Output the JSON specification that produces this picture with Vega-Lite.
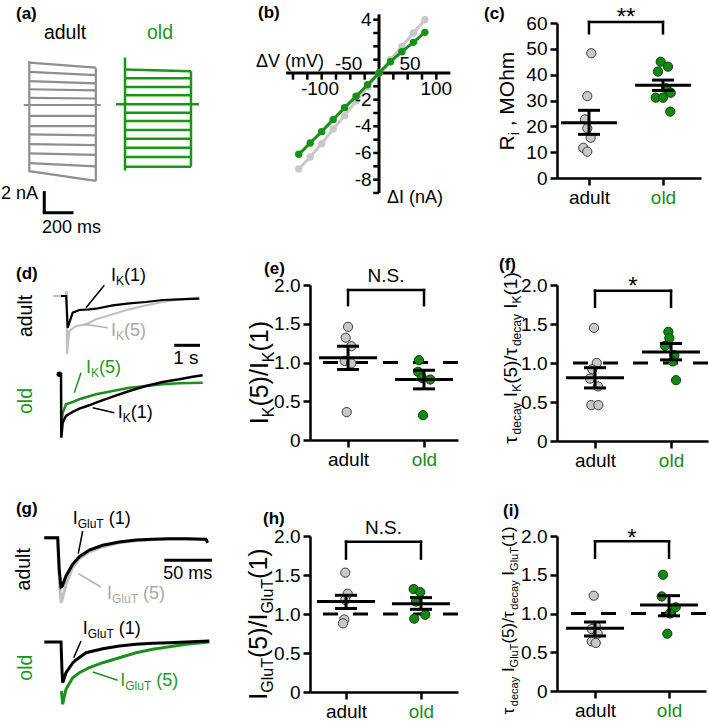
{
"$schema":"https://vega.github.io/schema/vega-lite/v6.json",
"padding":{"left":0,"top":4,"right":0,"bottom":0},
"background":"white",
"config":{"font":"Liberation Sans","view":{"stroke":null},"axis":{"domainColor":"black","domainWidth":2.5,"tickColor":"black","tickWidth":2.5,"tickSize":7,"labelFontSize":19,"labelColor":"black","labelFont":"Liberation Sans","grid":false,"labelPadding":3,"labelOverlap":false,"labelFlush":false},"text":{"color":"black"}},
"columns":3,
"spacing":{"row":95,"column":99},
"align":"each",
"bounds":"flush",
"datasets":{
"one":[{}],
"a_ad":[{"sw":"s1","t":0,"i":3.9},{"sw":"s1","t":480,"i":3.45},{"sw":"s2","t":0,"i":3.05},{"sw":"s2","t":480,"i":2.75},{"sw":"s3","t":0,"i":2.2},{"sw":"s3","t":480,"i":2.0},{"sw":"s4","t":0,"i":1.45},{"sw":"s4","t":480,"i":1.35},{"sw":"s5","t":0,"i":0.65},{"sw":"s5","t":480,"i":0.6},{"sw":"s0","t":-40,"i":0},{"sw":"s0","t":515,"i":0},{"sw":"s6","t":0,"i":-1.0},{"sw":"s6","t":480,"i":-1.0},{"sw":"s7","t":0,"i":-1.95},{"sw":"s7","t":480,"i":-1.95},{"sw":"s8","t":0,"i":-2.7},{"sw":"s8","t":480,"i":-2.8},{"sw":"s9","t":0,"i":-3.6},{"sw":"s9","t":480,"i":-3.7},{"sw":"s10","t":0,"i":-4.45},{"sw":"s10","t":480,"i":-4.6},{"sw":"s11","t":0,"i":-5.35},{"sw":"s11","t":480,"i":-5.65},{"sw":"s12","t":0,"i":-6.1},{"sw":"s12","t":480,"i":-7.0},{"sw":"eL","t":0,"i":4.05},{"sw":"eL","t":0,"i":-6.2},{"sw":"eR","t":480,"i":3.45},{"sw":"eR","t":480,"i":-7.0}],
"a_old":[{"sw":"s1","t":0,"i":3.2},{"sw":"s1","t":476,"i":3.05},{"sw":"s2","t":0,"i":2.4},{"sw":"s2","t":476,"i":2.4},{"sw":"s3","t":0,"i":1.6},{"sw":"s3","t":476,"i":1.6},{"sw":"s4","t":0,"i":0.83},{"sw":"s4","t":476,"i":0.83},{"sw":"s0","t":-65,"i":0},{"sw":"s0","t":534,"i":0},{"sw":"s5","t":0,"i":-0.77},{"sw":"s5","t":476,"i":-0.77},{"sw":"s6","t":0,"i":-1.55},{"sw":"s6","t":476,"i":-1.55},{"sw":"s7","t":0,"i":-2.37},{"sw":"s7","t":476,"i":-2.37},{"sw":"s8","t":0,"i":-3.18},{"sw":"s8","t":476,"i":-3.18},{"sw":"s9","t":0,"i":-4.0},{"sw":"s9","t":476,"i":-4.0},{"sw":"s10","t":0,"i":-4.85},{"sw":"s10","t":476,"i":-4.85},{"sw":"s11","t":0,"i":-5.75},{"sw":"s11","t":476,"i":-5.75},{"sw":"eL","t":0,"i":4.3},{"sw":"eL","t":0,"i":-6.1},{"sw":"eR","t":476,"i":3.05},{"sw":"eR","t":476,"i":-5.75}],
"b_ad":[{"v":-140,"i":-7.2},{"v":-120,"i":-6.3},{"v":-100,"i":-5.3},{"v":-80,"i":-4.2},{"v":-60,"i":-3.2},{"v":-40,"i":-2.1},{"v":-20,"i":-1.05},{"v":0,"i":0},{"v":20,"i":1.0},{"v":40,"i":2.0},{"v":60,"i":3.0},{"v":80,"i":4.0}],
"b_old":[{"v":-140,"i":-6.1},{"v":-120,"i":-5.25},{"v":-100,"i":-4.4},{"v":-80,"i":-3.5},{"v":-60,"i":-2.6},{"v":-40,"i":-1.75},{"v":-20,"i":-0.88},{"v":0,"i":0},{"v":20,"i":0.85},{"v":40,"i":1.6},{"v":60,"i":2.3},{"v":80,"i":3.05}],
"b_xt":[{"v":-150},{"v":-125},{"v":-100},{"v":-75},{"v":-50},{"v":-25},{"v":25},{"v":50},{"v":75},{"v":100}],
"b_yt":[{"i":-9},{"i":-8},{"i":-7},{"i":-6},{"i":-5},{"i":-4},{"i":-3},{"i":-2},{"i":-1},{"i":1},{"i":2},{"i":3},{"i":4}],
"c_pts":[{"group":"adult","value":48.3,"jitter":2.3},{"group":"adult","value":31.7,"jitter":-1.7},{"group":"adult","value":22.7,"jitter":-4},{"group":"adult","value":19.2,"jitter":-1.7},{"group":"adult","value":15.6,"jitter":1.7},{"group":"adult","value":11.7,"jitter":-5.7},{"group":"adult","value":10.2,"jitter":-1.7},{"group":"old","value":45.0,"jitter":-2.3},{"group":"old","value":43.1,"jitter":5},{"group":"old","value":41.2,"jitter":-5},{"group":"old","value":34.7,"jitter":3.3},{"group":"old","value":33.0,"jitter":7.7},{"group":"old","value":31.1,"jitter":-7.3},{"group":"old","value":31.1,"jitter":0},{"group":"old","value":25.7,"jitter":7.3}],
"c_sum":[{"group":"adult","mean":21.4,"lo":16.9,"hi":26.2},{"group":"old","mean":35.9,"lo":33.9,"hi":37.9}],
"e_pts":[{"group":"adult","value":1.46,"jitter":0},{"group":"adult","value":1.32,"jitter":-2.3},{"group":"adult","value":1.21,"jitter":3.3},{"group":"adult","value":1.02,"jitter":-3.3},{"group":"adult","value":0.99,"jitter":3.3},{"group":"adult","value":0.36,"jitter":-1.3},{"group":"old","value":1.03,"jitter":-5},{"group":"old","value":0.88,"jitter":-6},{"group":"old","value":0.80,"jitter":-2},{"group":"old","value":0.78,"jitter":6.3},{"group":"old","value":0.32,"jitter":-1}],
"e_sum":[{"group":"adult","mean":1.06,"lo":0.91,"hi":1.21},{"group":"old","mean":0.78,"lo":0.66,"hi":0.90}],
"f_pts":[{"group":"adult","value":1.45,"jitter":-1},{"group":"adult","value":1.0,"jitter":1.7},{"group":"adult","value":0.92,"jitter":-2.7},{"group":"adult","value":0.80,"jitter":-5},{"group":"adult","value":0.70,"jitter":3},{"group":"adult","value":0.46,"jitter":-3.7},{"group":"adult","value":0.46,"jitter":3.3},{"group":"old","value":1.40,"jitter":-2.7},{"group":"old","value":1.32,"jitter":-1.7},{"group":"old","value":1.22,"jitter":-6},{"group":"old","value":1.10,"jitter":3.3},{"group":"old","value":1.02,"jitter":1.7},{"group":"old","value":0.78,"jitter":5}],
"f_sum":[{"group":"adult","mean":0.81,"lo":0.68,"hi":0.94},{"group":"old","mean":1.14,"lo":1.04,"hi":1.25}],
"h_pts":[{"group":"adult","value":1.53,"jitter":-0.7},{"group":"adult","value":1.26,"jitter":1.7},{"group":"adult","value":1.18,"jitter":-0.7},{"group":"adult","value":0.93,"jitter":-1.7},{"group":"adult","value":0.88,"jitter":-3},{"group":"old","value":1.32,"jitter":-7.3},{"group":"old","value":1.28,"jitter":-0.7},{"group":"old","value":1.16,"jitter":-5},{"group":"old","value":0.99,"jitter":4.3},{"group":"old","value":0.94,"jitter":-6.7}],
"h_sum":[{"group":"adult","mean":1.16,"lo":1.07,"hi":1.24},{"group":"old","mean":1.13,"lo":1.06,"hi":1.21}],
"i_pts":[{"group":"adult","value":1.23,"jitter":-1.3},{"group":"adult","value":0.84,"jitter":0.7},{"group":"adult","value":0.80,"jitter":-3.3},{"group":"adult","value":0.74,"jitter":2.7},{"group":"adult","value":0.64,"jitter":-3.3},{"group":"adult","value":0.62,"jitter":0.7},{"group":"old","value":1.50,"jitter":-6},{"group":"old","value":1.22,"jitter":-7.3},{"group":"old","value":1.08,"jitter":6.7},{"group":"old","value":1.0,"jitter":1},{"group":"old","value":0.74,"jitter":-1.7}],
"i_sum":[{"group":"adult","mean":0.81,"lo":0.71,"hi":0.89},{"group":"old","mean":1.11,"lo":0.97,"hi":1.23}],
"d_a5":[{"t":-0.545,"v":0},{"t":-0.04,"v":0},{"t":0,"v":0.083},{"t":0.012,"v":-0.967},{"t":0.101,"v":-0.583},{"t":0.362,"v":-0.5},{"t":0.751,"v":-0.472},{"t":1.14,"v":-0.388},{"t":1.79,"v":-0.305},{"t":2.436,"v":-0.222},{"t":3.086,"v":-0.155},{"t":3.735,"v":-0.1},{"t":4.381,"v":-0.055},{"t":5.16,"v":-0.028}],
"d_a1":[{"t":-0.222,"v":0},{"t":-0.02,"v":0},{"t":0.039,"v":-0.528},{"t":0.233,"v":-0.278},{"t":0.49,"v":-0.233},{"t":0.879,"v":-0.222},{"t":1.14,"v":-0.212},{"t":1.79,"v":-0.155},{"t":2.436,"v":-0.122},{"t":3.086,"v":-0.1},{"t":3.735,"v":-0.067},{"t":4.381,"v":-0.055},{"t":5.16,"v":-0.045}],
"d_o1":[{"t":-0.066,"v":0},{"t":0,"v":0},{"t":0.012,"v":-1.057},{"t":0.066,"v":-0.807},{"t":0.195,"v":-0.695},{"t":0.455,"v":-0.628},{"t":0.712,"v":-0.573},{"t":1.101,"v":-0.517},{"t":1.362,"v":-0.473},{"t":2.012,"v":-0.373},{"t":2.658,"v":-0.278},{"t":3.307,"v":-0.195},{"t":3.957,"v":-0.128},{"t":4.603,"v":-0.083},{"t":5.125,"v":-0.04},{"t":5.514,"v":-0.017}],
"d_o5":[{"t":0.02,"v":-0.862},{"t":0.066,"v":-0.64},{"t":0.195,"v":-0.5},{"t":0.455,"v":-0.462},{"t":0.712,"v":-0.417},{"t":1.362,"v":-0.333},{"t":2.012,"v":-0.278},{"t":2.658,"v":-0.223},{"t":3.307,"v":-0.195},{"t":3.957,"v":-0.167},{"t":4.603,"v":-0.15},{"t":5.514,"v":-0.14}],
"g_a1":[{"t":-14.1,"v":0},{"t":0,"v":0},{"t":1.7,"v":-0.666},{"t":3.46,"v":-0.986},{"t":4.83,"v":-0.966},{"t":8.7,"v":-0.766},{"t":15.7,"v":-0.532},{"t":22.7,"v":-0.38},{"t":33.2,"v":-0.246},{"t":47.2,"v":-0.152},{"t":64.6,"v":-0.086},{"t":82.2,"v":-0.046},{"t":99.7,"v":-0.032},{"t":117.1,"v":-0.02},{"t":134.6,"v":-0.02},{"t":155.6,"v":-0.032},{"t":157.4,"v":-0.1}],
"g_a5":[{"t":-14.1,"v":-0.006},{"t":0,"v":-0.006},{"t":1.7,"v":-0.866},{"t":3.46,"v":-1.3},{"t":4.83,"v":-1.226},{"t":8.7,"v":-0.932},{"t":15.7,"v":-0.6},{"t":22.7,"v":-0.42},{"t":33.2,"v":-0.286},{"t":47.2,"v":-0.18},{"t":64.6,"v":-0.1},{"t":82.2,"v":-0.06},{"t":99.7,"v":-0.04},{"t":117.1,"v":-0.026},{"t":134.6,"v":-0.026},{"t":155.6,"v":-0.04}],
"g_o1":[{"t":-17.5,"v":0},{"t":0,"v":0},{"t":1.05,"v":-0.58},{"t":1.78,"v":-0.814},{"t":3.15,"v":-0.74},{"t":5.25,"v":-0.614},{"t":12.3,"v":-0.42},{"t":15.7,"v":-0.36},{"t":26.2,"v":-0.214},{"t":43.8,"v":-0.134},{"t":61.2,"v":-0.08},{"t":78.7,"v":-0.046},{"t":96.2,"v":-0.026},{"t":113.6,"v":-0.014},{"t":131.2,"v":0},{"t":155.6,"v":0.02}],
"g_o5":[{"t":0.5,"v":-0.98},{"t":1.78,"v":-1.246},{"t":3.15,"v":-1.12},{"t":5.25,"v":-0.946},{"t":12.3,"v":-0.714},{"t":19.2,"v":-0.614},{"t":29.7,"v":-0.514},{"t":43.8,"v":-0.414},{"t":61.2,"v":-0.314},{"t":78.7,"v":-0.214},{"t":96.2,"v":-0.146},{"t":113.6,"v":-0.094},{"t":131.2,"v":-0.046},{"t":155.6,"v":0}]
},
"concat":[
{"width":188,"height":167,"resolve":{"scale":{"x":"independent","y":"independent"}},
"layer":[
 {"layer":[
  {"data":{"name":"a_ad"},"mark":{"type":"line","color":"#8e8e8e","strokeWidth":2.2},"encoding":{"x":{"field":"t","type":"quantitative","scale":{"domain":[-204.2,1152.2],"nice":false,"zero":false},"axis":null},"y":{"field":"i","type":"quantitative","scale":{"domain":[-7.834,7.558],"nice":false,"zero":false},"axis":null},"detail":{"field":"sw"}}},
  {"data":{"name":"one"},"mark":{"type":"rule","strokeWidth":3,"color":"black"},"encoding":{"x":{"datum":108,"axis":null},"y":{"datum":-7.93,"axis":null},"y2":{"datum":-9.93}}},
  {"data":{"name":"one"},"mark":{"type":"rule","strokeWidth":3,"color":"black","strokeCap":"square"},"encoding":{"x":{"datum":108,"axis":null},"x2":{"datum":308},"y":{"datum":-9.93,"axis":null}}},
  {"data":{"name":"one"},"mark":{"type":"text","align":"right","baseline":"middle","fontSize":18},"encoding":{"x":{"datum":62.8,"axis":null},"y":{"datum":-8.17,"axis":null},"text":{"value":"2 nA"}}},
  {"data":{"name":"one"},"mark":{"type":"text","align":"center","baseline":"middle","fontSize":18},"encoding":{"x":{"datum":304,"axis":null},"y":{"datum":-11.3,"axis":null},"text":{"value":"200 ms"}}},
  {"data":{"name":"one"},"mark":{"type":"text","align":"center","baseline":"middle","fontSize":19.5},"encoding":{"x":{"datum":258,"axis":null},"y":{"datum":6.64,"axis":null},"text":{"value":"adult"}}},
  {"data":{"name":"one"},"mark":{"type":"text","align":"left","baseline":"middle","fontSize":17,"fontWeight":"bold"},"encoding":{"x":{"datum":-96,"axis":null},"y":{"datum":8.39,"axis":null},"text":{"value":"(a)"}}}
 ]},
 {"layer":[
  {"data":{"name":"a_old"},"mark":{"type":"line","color":"#179617","strokeWidth":2.5},"encoding":{"x":{"field":"t","type":"quantitative","scale":{"domain":[-894.7,461.8],"nice":false,"zero":false},"axis":null},"y":{"field":"i","type":"quantitative","scale":{"domain":[-7.899,7.493],"nice":false,"zero":false},"axis":null},"detail":{"field":"sw"}}},
  {"data":{"name":"one"},"mark":{"type":"text","align":"center","baseline":"middle","fontSize":19.5,"color":"#1a961a"},"encoding":{"x":{"datum":252.5,"axis":null},"y":{"datum":6.57,"axis":null},"text":{"value":"old"}}}
 ]}
]},
{"width":148,"height":167,
"layer":[
 {"data":{"name":"one"},"mark":{"type":"rule","strokeWidth":3,"color":"black"},"encoding":{"x":{"datum":-162,"type":"quantitative","scale":{"domain":[-120.36,137.8],"nice":false,"zero":false},"axis":null},"x2":{"datum":124.5},"y":{"datum":0,"type":"quantitative","scale":{"domain":[-8.777,3.751],"nice":false,"zero":false},"axis":null}}},
 {"data":{"name":"one"},"mark":{"type":"rule","strokeWidth":3,"color":"black"},"encoding":{"x":{"datum":0,"axis":null},"y":{"datum":4.4,"axis":null},"y2":{"datum":-9.0}}},
 {"data":{"name":"b_xt"},"mark":{"type":"rule","strokeWidth":2.5,"color":"black"},"encoding":{"x":{"field":"v","type":"quantitative","axis":null},"y":{"datum":0,"axis":null},"y2":{"datum":-0.5}}},
 {"data":{"name":"b_yt"},"mark":{"type":"rule","strokeWidth":2.5,"color":"black"},"encoding":{"y":{"field":"i","type":"quantitative","axis":null},"x":{"datum":0,"axis":null},"x2":{"datum":-10}}},
 {"data":{"name":"b_ad"},"mark":{"type":"line","color":"#c8c8c8","strokeWidth":3},"encoding":{"x":{"field":"v","type":"quantitative","axis":null},"y":{"field":"i","type":"quantitative","axis":null}}},
 {"data":{"name":"b_ad"},"mark":{"type":"circle","color":"#c8c8c8","size":55,"opacity":1},"encoding":{"x":{"field":"v","type":"quantitative","axis":null},"y":{"field":"i","type":"quantitative","axis":null}}},
 {"data":{"name":"b_old"},"mark":{"type":"line","color":"#17901a","strokeWidth":3},"encoding":{"x":{"field":"v","type":"quantitative","axis":null},"y":{"field":"i","type":"quantitative","axis":null}}},
 {"data":{"name":"b_old"},"mark":{"type":"circle","color":"#17901a","size":55,"opacity":1},"encoding":{"x":{"field":"v","type":"quantitative","axis":null},"y":{"field":"i","type":"quantitative","axis":null}}},
 {"data":{"name":"one"},"mark":{"type":"text","align":"center","baseline":"middle","fontSize":19},"encoding":{"x":{"datum":-103,"axis":null},"y":{"datum":-1.2,"axis":null},"text":{"value":"-100"}}},
 {"data":{"name":"one"},"mark":{"type":"text","align":"center","baseline":"middle","fontSize":19},"encoding":{"x":{"datum":-53,"axis":null},"y":{"datum":0.68,"axis":null},"text":{"value":"-50"}}},
 {"data":{"name":"one"},"mark":{"type":"text","align":"center","baseline":"middle","fontSize":19},"encoding":{"x":{"datum":54,"axis":null},"y":{"datum":0.68,"axis":null},"text":{"value":"50"}}},
 {"data":{"name":"one"},"mark":{"type":"text","align":"center","baseline":"middle","fontSize":19},"encoding":{"x":{"datum":100,"axis":null},"y":{"datum":-1.2,"axis":null},"text":{"value":"100"}}},
 {"data":{"name":"one"},"mark":{"type":"text","align":"right","baseline":"middle","fontSize":19},"encoding":{"x":{"datum":-13,"axis":null},"y":{"datum":4,"axis":null},"text":{"value":"4"}}},
 {"data":{"name":"one"},"mark":{"type":"text","align":"right","baseline":"middle","fontSize":19},"encoding":{"x":{"datum":-13,"axis":null},"y":{"datum":-2,"axis":null},"text":{"value":"-2"}}},
 {"data":{"name":"one"},"mark":{"type":"text","align":"right","baseline":"middle","fontSize":19},"encoding":{"x":{"datum":-13,"axis":null},"y":{"datum":-4,"axis":null},"text":{"value":"-4"}}},
 {"data":{"name":"one"},"mark":{"type":"text","align":"right","baseline":"middle","fontSize":19},"encoding":{"x":{"datum":-13,"axis":null},"y":{"datum":-6,"axis":null},"text":{"value":"-6"}}},
 {"data":{"name":"one"},"mark":{"type":"text","align":"right","baseline":"middle","fontSize":19},"encoding":{"x":{"datum":-13,"axis":null},"y":{"datum":-8,"axis":null},"text":{"value":"-8"}}},
 {"data":{"name":"one"},"mark":{"type":"text","align":"right","baseline":"middle","fontSize":18},"encoding":{"x":{"datum":-96,"axis":null},"y":{"datum":0.83,"axis":null},"text":{"value":"ΔV (mV)"}}},
 {"data":{"name":"one"},"mark":{"type":"text","align":"left","baseline":"middle","fontSize":18},"encoding":{"x":{"datum":14,"axis":null},"y":{"datum":-9.38,"axis":null},"text":{"value":"ΔI (nA)"}}},
 {"data":{"name":"one"},"mark":{"type":"text","align":"left","baseline":"middle","fontSize":17,"fontWeight":"bold"},"encoding":{"x":{"datum":-211,"axis":null},"y":{"datum":4.5,"axis":null},"text":{"value":"(b)"}}}
]},
{"width":144,"height":155,"resolve":{"axis":{"x":"independent","y":"independent"}},
"layer":[
 {"data":{"name":"c_pts"},"mark":{"type":"circle","size":85,"opacity":1,"strokeWidth":1},"encoding":{"x":{"field":"group","type":"nominal","scale":{"type":"point","padding":0.473,"align":0.457,"domain":["adult","old"]},"axis":{"title":null,"labelAngle":0,"labelColor":{"condition":{"test":"datum.value === 'old'","value":"#1a8c1a"},"value":"black"}}},"y":{"field":"value","type":"quantitative","scale":{"domain":[0,60],"nice":false,"zero":false},"axis":{"title":null,"values":[0,10,20,30,40,50,60],"tickCount":20,"labelOverlap":false}},"xOffset":{"field":"jitter","type":"quantitative","scale":{"domain":[-10,10],"range":[-10,10]}},"fill":{"field":"group","type":"nominal","scale":{"domain":["adult","old"],"range":["#c8c8c8","#128a12"]},"legend":null},"stroke":{"field":"group","type":"nominal","scale":{"domain":["adult","old"],"range":["#3c3c3c","#0b3b0b"]},"legend":null}}},
 {"data":{"name":"c_sum"},"mark":{"type":"tick","orient":"horizontal","size":56,"thickness":3,"color":"black","opacity":1},"encoding":{"x":{"field":"group","type":"nominal","axis":null},"y":{"field":"mean","type":"quantitative","axis":null}}},
 {"data":{"name":"c_sum"},"mark":{"type":"rule","strokeWidth":3,"color":"black"},"encoding":{"x":{"field":"group","type":"nominal","axis":null},"y":{"field":"lo","type":"quantitative","axis":null},"y2":{"field":"hi"}}},
 {"data":{"name":"c_sum"},"mark":{"type":"tick","orient":"horizontal","size":22,"thickness":3,"color":"black","opacity":1},"encoding":{"x":{"field":"group","type":"nominal","axis":null},"y":{"field":"lo","type":"quantitative","axis":null}}},
 {"data":{"name":"c_sum"},"mark":{"type":"tick","orient":"horizontal","size":22,"thickness":3,"color":"black","opacity":1},"encoding":{"x":{"field":"group","type":"nominal","axis":null},"y":{"field":"hi","type":"quantitative","axis":null}}},
 {"data":{"name":"one"},"mark":{"type":"rule","strokeWidth":2.5,"color":"black","strokeCap":"square"},"encoding":{"x":{"datum":"adult","axis":null},"x2":{"datum":"old"},"y":{"datum":60.4,"axis":null}}},
 {"data":{"name":"one"},"mark":{"type":"rule","strokeWidth":2.5,"color":"black","strokeCap":"square"},"encoding":{"x":{"datum":"adult","axis":null},"y":{"datum":60.4,"axis":null},"y2":{"datum":56}}},
 {"data":{"name":"one"},"mark":{"type":"rule","strokeWidth":2.5,"color":"black","strokeCap":"square"},"encoding":{"x":{"datum":"old","axis":null},"y":{"datum":60.4,"axis":null},"y2":{"datum":56}}},
 {"data":{"name":"one"},"mark":{"type":"text","align":"center","baseline":"alphabetic","fontSize":24,"dx":37},"encoding":{"x":{"datum":"adult","axis":null},"y":{"datum":59.3,"axis":null},"text":{"value":"**"}}},
 {"data":{"name":"one"},"mark":{"type":"text","angle":270,"align":"left","baseline":"alphabetic","fontSize":21,"dx":-49.4,"dy":-74.7},"encoding":{"x":{"datum":"adult","axis":null},"y":{"datum":29.8,"axis":null},"text":{"value":"R"}}},
 {"data":{"name":"one"},"mark":{"type":"text","angle":270,"align":"left","baseline":"alphabetic","fontSize":14,"dx":-34.2,"dy":-69.7},"encoding":{"x":{"datum":"adult","axis":null},"y":{"datum":29.8,"axis":null},"text":{"value":"i"}}},
 {"data":{"name":"one"},"mark":{"type":"text","angle":270,"align":"left","baseline":"alphabetic","fontSize":21,"dx":-25.3,"dy":-74.7},"encoding":{"x":{"datum":"adult","axis":null},"y":{"datum":29.8,"axis":null},"text":{"value":", MOhm"}}},
 {"data":{"name":"one"},"mark":{"type":"text","align":"left","baseline":"middle","fontSize":17,"fontWeight":"bold","dx":-105},"encoding":{"x":{"datum":"adult","axis":null},"y":{"datum":63.5,"axis":null},"text":{"value":"(c)"}}}
]},
{"width":210,"height":156,"resolve":{"scale":{"x":"independent","y":"independent"}},
"layer":[
 {"layer":[
  {"data":{"name":"d_a5"},"mark":{"type":"line","color":"#c0c0c0","strokeWidth":2.2},"encoding":{"x":{"field":"t","type":"quantitative","scale":{"domain":[-2.556,5.615],"nice":false,"zero":false},"axis":null},"y":{"field":"v","type":"quantitative","scale":{"domain":[-2.4167,0.1833],"nice":false,"zero":false},"axis":null}}},
  {"data":{"name":"d_a1"},"mark":{"type":"line","color":"black","strokeWidth":2.2},"encoding":{"x":{"field":"t","type":"quantitative","axis":null},"y":{"field":"v","type":"quantitative","axis":null}}},
  {"data":{"name":"one"},"mark":{"type":"rule","strokeWidth":1.5,"color":"black"},"encoding":{"x":{"datum":1.463,"axis":null},"x2":{"datum":0.752},"y":{"datum":0.178,"axis":null},"y2":{"datum":-0.195}}},
  {"data":{"name":"one"},"mark":{"type":"rule","strokeWidth":1.5,"color":"#b0b0b0"},"encoding":{"x":{"datum":1.595,"axis":null},"x2":{"datum":0.685},"y":{"datum":-0.528,"axis":null},"y2":{"datum":-0.472}}},
  {"data":{"name":"one"},"mark":{"type":"text","align":"left","baseline":"middle","fontSize":18},"encoding":{"x":{"datum":1.724,"axis":null},"y":{"datum":0.333,"axis":null},"text":{"value":"I"}}},
  {"data":{"name":"one"},"mark":{"type":"text","align":"left","baseline":"middle","fontSize":12,"dx":5,"dy":5},"encoding":{"x":{"datum":1.724,"axis":null},"y":{"datum":0.333,"axis":null},"text":{"value":"K"}}},
  {"data":{"name":"one"},"mark":{"type":"text","align":"left","baseline":"middle","fontSize":18,"dx":13},"encoding":{"x":{"datum":1.724,"axis":null},"y":{"datum":0.333,"axis":null},"text":{"value":"(1)"}}},
  {"data":{"name":"one"},"mark":{"type":"text","align":"left","baseline":"middle","fontSize":18,"color":"#a8a8a8"},"encoding":{"x":{"datum":1.724,"axis":null},"y":{"datum":-0.583,"axis":null},"text":{"value":"I"}}},
  {"data":{"name":"one"},"mark":{"type":"text","align":"left","baseline":"middle","fontSize":12,"dx":5,"dy":5,"color":"#a8a8a8"},"encoding":{"x":{"datum":1.724,"axis":null},"y":{"datum":-0.583,"axis":null},"text":{"value":"K"}}},
  {"data":{"name":"one"},"mark":{"type":"text","align":"left","baseline":"middle","fontSize":18,"dx":13,"color":"#a8a8a8"},"encoding":{"x":{"datum":1.724,"axis":null},"y":{"datum":-0.583,"axis":null},"text":{"value":"(5)"}}},
  {"data":{"name":"one"},"mark":{"type":"rule","strokeWidth":3,"color":"black"},"encoding":{"x":{"datum":4.187,"axis":null},"x2":{"datum":5.187},"y":{"datum":-0.822,"axis":null}}},
  {"data":{"name":"one"},"mark":{"type":"text","align":"center","baseline":"middle","fontSize":19},"encoding":{"x":{"datum":4.64,"axis":null},"y":{"datum":-1.03,"axis":null},"text":{"value":"1 s"}}},
  {"data":{"name":"one"},"mark":{"type":"text","angle":270,"align":"center","baseline":"middle","fontSize":19.5},"encoding":{"x":{"datum":-1.584,"axis":null},"y":{"datum":-0.333,"axis":null},"text":{"value":"adult"}}},
  {"data":{"name":"one"},"mark":{"type":"text","align":"left","baseline":"middle","fontSize":17,"fontWeight":"bold"},"encoding":{"x":{"datum":-1.973,"axis":null},"y":{"datum":0.367,"axis":null},"text":{"value":"(d)"}}}
 ]},
 {"layer":[
  {"data":{"name":"d_o5"},"mark":{"type":"line","color":"#1d8f1d","strokeWidth":2.5},"encoding":{"x":{"field":"t","type":"quantitative","scale":{"domain":[-2.335,5.837],"nice":false,"zero":false},"axis":null},"y":{"field":"v","type":"quantitative","scale":{"domain":[-1.112,1.488],"nice":false,"zero":false},"axis":null}}},
  {"data":{"name":"d_o1"},"mark":{"type":"line","color":"black","strokeWidth":2.5},"encoding":{"x":{"field":"t","type":"quantitative","axis":null},"y":{"field":"v","type":"quantitative","axis":null}}},
  {"data":{"name":"one"},"mark":{"type":"circle","color":"black","size":30,"opacity":1},"encoding":{"x":{"datum":-0.066,"axis":null},"y":{"datum":0,"axis":null}}},
  {"data":{"name":"one"},"mark":{"type":"rule","strokeWidth":1.5,"color":"#1d8f1d"},"encoding":{"x":{"datum":0.778,"axis":null},"x2":{"datum":0.518},"y":{"datum":0.027,"axis":null},"y2":{"datum":-0.307}}},
  {"data":{"name":"one"},"mark":{"type":"rule","strokeWidth":1.5,"color":"black"},"encoding":{"x":{"datum":2.074,"axis":null},"x2":{"datum":1.233},"y":{"datum":-0.64,"axis":null},"y2":{"datum":-0.557}}},
  {"data":{"name":"one"},"mark":{"type":"text","align":"left","baseline":"middle","fontSize":18,"color":"#1f9a1f"},"encoding":{"x":{"datum":0.973,"axis":null},"y":{"datum":0.11,"axis":null},"text":{"value":"I"}}},
  {"data":{"name":"one"},"mark":{"type":"text","align":"left","baseline":"middle","fontSize":12,"dx":5,"dy":5,"color":"#1f9a1f"},"encoding":{"x":{"datum":0.973,"axis":null},"y":{"datum":0.11,"axis":null},"text":{"value":"K"}}},
  {"data":{"name":"one"},"mark":{"type":"text","align":"left","baseline":"middle","fontSize":18,"dx":13,"color":"#1f9a1f"},"encoding":{"x":{"datum":0.973,"axis":null},"y":{"datum":0.11,"axis":null},"text":{"value":"(5)"}}},
  {"data":{"name":"one"},"mark":{"type":"text","align":"left","baseline":"middle","fontSize":18},"encoding":{"x":{"datum":2.206,"axis":null},"y":{"datum":-0.64,"axis":null},"text":{"value":"I"}}},
  {"data":{"name":"one"},"mark":{"type":"text","align":"left","baseline":"middle","fontSize":12,"dx":5,"dy":5},"encoding":{"x":{"datum":2.206,"axis":null},"y":{"datum":-0.64,"axis":null},"text":{"value":"K"}}},
  {"data":{"name":"one"},"mark":{"type":"text","align":"left","baseline":"middle","fontSize":18,"dx":13},"encoding":{"x":{"datum":2.206,"axis":null},"y":{"datum":-0.64,"axis":null},"text":{"value":"(1)"}}},
  {"data":{"name":"one"},"mark":{"type":"text","angle":270,"align":"center","baseline":"middle","fontSize":19.5,"color":"#1a961a"},"encoding":{"x":{"datum":-1.362,"axis":null},"y":{"datum":-0.445,"axis":null},"text":{"value":"old"}}}
 ]}
]},
{"width":148,"height":155,"resolve":{"axis":{"x":"independent","y":"independent"}},
"layer":[
 {"data":{"name":"one"},"mark":{"type":"rule","strokeDash":[15,15],"strokeWidth":3,"color":"black"},"encoding":{"y":{"datum":1,"axis":null}}},
 {"data":{"name":"e_pts"},"mark":{"type":"circle","size":85,"opacity":1,"strokeWidth":1},"encoding":{"x":{"field":"group","type":"nominal","scale":{"type":"point","padding":0.474,"align":0.528,"domain":["adult","old"]},"axis":{"title":null,"labelAngle":0,"labelColor":{"condition":{"test":"datum.value === 'old'","value":"#1a8c1a"},"value":"black"}}},"y":{"field":"value","type":"quantitative","scale":{"domain":[0,2],"nice":false,"zero":false},"axis":{"title":null,"values":[0,0.5,1,1.5,2],"tickCount":20,"labelOverlap":false,"labelExpr":"datum.value === 0 ? '0' : format(datum.value, '.1f')"}},"xOffset":{"field":"jitter","type":"quantitative","scale":{"domain":[-10,10],"range":[-10,10]}},"fill":{"field":"group","type":"nominal","scale":{"domain":["adult","old"],"range":["#c8c8c8","#128a12"]},"legend":null},"stroke":{"field":"group","type":"nominal","scale":{"domain":["adult","old"],"range":["#3c3c3c","#0b3b0b"]},"legend":null}}},
 {"data":{"name":"e_sum"},"mark":{"type":"tick","orient":"horizontal","size":58,"thickness":3,"color":"black","opacity":1},"encoding":{"x":{"field":"group","type":"nominal","axis":null},"y":{"field":"mean","type":"quantitative","axis":null}}},
 {"data":{"name":"e_sum"},"mark":{"type":"rule","strokeWidth":3,"color":"black"},"encoding":{"x":{"field":"group","type":"nominal","axis":null},"y":{"field":"lo","type":"quantitative","axis":null},"y2":{"field":"hi"}}},
 {"data":{"name":"e_sum"},"mark":{"type":"tick","orient":"horizontal","size":22,"thickness":3,"color":"black","opacity":1},"encoding":{"x":{"field":"group","type":"nominal","axis":null},"y":{"field":"lo","type":"quantitative","axis":null}}},
 {"data":{"name":"e_sum"},"mark":{"type":"tick","orient":"horizontal","size":22,"thickness":3,"color":"black","opacity":1},"encoding":{"x":{"field":"group","type":"nominal","axis":null},"y":{"field":"hi","type":"quantitative","axis":null}}},
 {"data":{"name":"one"},"mark":{"type":"rule","strokeWidth":2.5,"color":"black","strokeCap":"square"},"encoding":{"x":{"datum":"adult","axis":null},"x2":{"datum":"old"},"y":{"datum":1.935,"axis":null}}},
 {"data":{"name":"one"},"mark":{"type":"rule","strokeWidth":2.5,"color":"black","strokeCap":"square"},"encoding":{"x":{"datum":"adult","axis":null},"y":{"datum":1.935,"axis":null},"y2":{"datum":1.74}}},
 {"data":{"name":"one"},"mark":{"type":"rule","strokeWidth":2.5,"color":"black","strokeCap":"square"},"encoding":{"x":{"datum":"old","axis":null},"y":{"datum":1.935,"axis":null},"y2":{"datum":1.74}}},
 {"data":{"name":"one"},"mark":{"type":"text","align":"center","baseline":"middle","fontSize":19,"dx":38},"encoding":{"x":{"datum":"adult","axis":null},"y":{"datum":2.116,"axis":null},"text":{"value":"N.S."}}},
 {"data":{"name":"one"},"mark":{"type":"text","angle":270,"align":"left","baseline":"alphabetic","fontSize":25,"dx":-51.65,"dy":-80},"encoding":{"x":{"datum":"adult","axis":null},"y":{"datum":0.87,"axis":null},"text":{"value":"I"}}},
 {"data":{"name":"one"},"mark":{"type":"text","angle":270,"align":"left","baseline":"alphabetic","fontSize":16,"dx":-44.7,"dy":-74},"encoding":{"x":{"datum":"adult","axis":null},"y":{"datum":0.87,"axis":null},"text":{"value":"K"}}},
 {"data":{"name":"one"},"mark":{"type":"text","angle":270,"align":"left","baseline":"alphabetic","fontSize":25,"dx":-34.03,"dy":-80},"encoding":{"x":{"datum":"adult","axis":null},"y":{"datum":0.87,"axis":null},"text":{"value":"(5)/I"}}},
 {"data":{"name":"one"},"mark":{"type":"text","angle":270,"align":"left","baseline":"alphabetic","fontSize":16,"dx":10.42,"dy":-74},"encoding":{"x":{"datum":"adult","axis":null},"y":{"datum":0.87,"axis":null},"text":{"value":"K"}}},
 {"data":{"name":"one"},"mark":{"type":"text","angle":270,"align":"left","baseline":"alphabetic","fontSize":25,"dx":21.09,"dy":-80},"encoding":{"x":{"datum":"adult","axis":null},"y":{"datum":0.87,"axis":null},"text":{"value":"(1)"}}},
 {"data":{"name":"one"},"mark":{"type":"text","align":"left","baseline":"middle","fontSize":17,"fontWeight":"bold","dx":-84},"encoding":{"x":{"datum":"adult","axis":null},"y":{"datum":2.206,"axis":null},"text":{"value":"(e)"}}}
]},
{"width":151,"height":156,"resolve":{"axis":{"x":"independent","y":"independent"}},
"layer":[
 {"data":{"name":"one"},"mark":{"type":"rule","strokeDash":[15,15],"strokeWidth":3,"color":"black"},"encoding":{"y":{"datum":1,"axis":null}}},
 {"data":{"name":"f_pts"},"mark":{"type":"circle","size":85,"opacity":1,"strokeWidth":1},"encoding":{"x":{"field":"group","type":"nominal","scale":{"type":"point","padding":0.493,"align":0.507,"domain":["adult","old"]},"axis":{"title":null,"labelAngle":0,"labelColor":{"condition":{"test":"datum.value === 'old'","value":"#1a8c1a"},"value":"black"}}},"y":{"field":"value","type":"quantitative","scale":{"domain":[0,2],"nice":false,"zero":false},"axis":{"title":null,"values":[0,0.5,1,1.5,2],"tickCount":20,"labelOverlap":false,"labelExpr":"datum.value === 0 ? '0' : format(datum.value, '.1f')"}},"xOffset":{"field":"jitter","type":"quantitative","scale":{"domain":[-10,10],"range":[-10,10]}},"fill":{"field":"group","type":"nominal","scale":{"domain":["adult","old"],"range":["#c8c8c8","#128a12"]},"legend":null},"stroke":{"field":"group","type":"nominal","scale":{"domain":["adult","old"],"range":["#3c3c3c","#0b3b0b"]},"legend":null}}},
 {"data":{"name":"f_sum"},"mark":{"type":"tick","orient":"horizontal","size":58,"thickness":3,"color":"black","opacity":1},"encoding":{"x":{"field":"group","type":"nominal","axis":null},"y":{"field":"mean","type":"quantitative","axis":null}}},
 {"data":{"name":"f_sum"},"mark":{"type":"rule","strokeWidth":3,"color":"black"},"encoding":{"x":{"field":"group","type":"nominal","axis":null},"y":{"field":"lo","type":"quantitative","axis":null},"y2":{"field":"hi"}}},
 {"data":{"name":"f_sum"},"mark":{"type":"tick","orient":"horizontal","size":22,"thickness":3,"color":"black","opacity":1},"encoding":{"x":{"field":"group","type":"nominal","axis":null},"y":{"field":"lo","type":"quantitative","axis":null}}},
 {"data":{"name":"f_sum"},"mark":{"type":"tick","orient":"horizontal","size":22,"thickness":3,"color":"black","opacity":1},"encoding":{"x":{"field":"group","type":"nominal","axis":null},"y":{"field":"hi","type":"quantitative","axis":null}}},
 {"data":{"name":"one"},"mark":{"type":"rule","strokeWidth":2.5,"color":"black","strokeCap":"square"},"encoding":{"x":{"datum":"adult","axis":null},"x2":{"datum":"old"},"y":{"datum":1.927,"axis":null}}},
 {"data":{"name":"one"},"mark":{"type":"rule","strokeWidth":2.5,"color":"black","strokeCap":"square"},"encoding":{"x":{"datum":"adult","axis":null},"y":{"datum":1.927,"axis":null},"y2":{"datum":1.72}}},
 {"data":{"name":"one"},"mark":{"type":"rule","strokeWidth":2.5,"color":"black","strokeCap":"square"},"encoding":{"x":{"datum":"old","axis":null},"y":{"datum":1.927,"axis":null},"y2":{"datum":1.72}}},
 {"data":{"name":"one"},"mark":{"type":"text","align":"center","baseline":"alphabetic","fontSize":24,"dx":38},"encoding":{"x":{"datum":"adult","axis":null},"y":{"datum":1.886,"axis":null},"text":{"value":"*"}}},
 {"data":{"name":"one"},"mark":{"type":"text","angle":270,"align":"left","baseline":"alphabetic","fontSize":19,"dx":-85.75,"dy":-78},"encoding":{"x":{"datum":"adult","axis":null},"y":{"datum":1.064,"axis":null},"text":{"value":"τ"}}},
 {"data":{"name":"one"},"mark":{"type":"text","angle":270,"align":"left","baseline":"alphabetic","fontSize":12,"dx":-76.45,"dy":-74},"encoding":{"x":{"datum":"adult","axis":null},"y":{"datum":1.064,"axis":null},"text":{"value":"decay"}}},
 {"data":{"name":"one"},"mark":{"type":"text","angle":270,"align":"left","baseline":"alphabetic","fontSize":19,"dx":-39.17,"dy":-78},"encoding":{"x":{"datum":"adult","axis":null},"y":{"datum":1.064,"axis":null},"text":{"value":"I"}}},
 {"data":{"name":"one"},"mark":{"type":"text","angle":270,"align":"left","baseline":"alphabetic","fontSize":12,"dx":-33.85,"dy":-74},"encoding":{"x":{"datum":"adult","axis":null},"y":{"datum":1.064,"axis":null},"text":{"value":"K"}}},
 {"data":{"name":"one"},"mark":{"type":"text","angle":270,"align":"left","baseline":"alphabetic","fontSize":19,"dx":-25.85,"dy":-78},"encoding":{"x":{"datum":"adult","axis":null},"y":{"datum":1.064,"axis":null},"text":{"value":"(5)/τ"}}},
 {"data":{"name":"one"},"mark":{"type":"text","angle":270,"align":"left","baseline":"alphabetic","fontSize":12,"dx":11.95,"dy":-74},"encoding":{"x":{"datum":"adult","axis":null},"y":{"datum":1.064,"axis":null},"text":{"value":"decay"}}},
 {"data":{"name":"one"},"mark":{"type":"text","angle":270,"align":"left","baseline":"alphabetic","fontSize":19,"dx":49.23,"dy":-78},"encoding":{"x":{"datum":"adult","axis":null},"y":{"datum":1.064,"axis":null},"text":{"value":"I"}}},
 {"data":{"name":"one"},"mark":{"type":"text","angle":270,"align":"left","baseline":"alphabetic","fontSize":12,"dx":54.55,"dy":-74},"encoding":{"x":{"datum":"adult","axis":null},"y":{"datum":1.064,"axis":null},"text":{"value":"K"}}},
 {"data":{"name":"one"},"mark":{"type":"text","angle":270,"align":"left","baseline":"alphabetic","fontSize":19,"dx":62.55,"dy":-78},"encoding":{"x":{"datum":"adult","axis":null},"y":{"datum":1.064,"axis":null},"text":{"value":"(1)"}}},
 {"data":{"name":"one"},"mark":{"type":"text","align":"left","baseline":"middle","fontSize":17,"fontWeight":"bold","dx":-96},"encoding":{"x":{"datum":"adult","axis":null},"y":{"datum":2.256,"axis":null},"text":{"value":"(f)"}}}
]},
{"width":208,"height":156,"resolve":{"scale":{"x":"independent","y":"independent"}},
"layer":[
 {"layer":[
  {"data":{"name":"g_a5"},"mark":{"type":"line","color":"#c0c0c0","strokeWidth":3},"encoding":{"x":{"field":"t","type":"quantitative","scale":{"domain":[-59.5,158.8],"nice":false,"zero":false},"axis":null},"y":{"field":"v","type":"quantitative","scale":{"domain":[-3.086,0.034],"nice":false,"zero":false},"axis":null}}},
  {"data":{"name":"g_a1"},"mark":{"type":"line","color":"black","strokeWidth":3},"encoding":{"x":{"field":"t","type":"quantitative","axis":null},"y":{"field":"v","type":"quantitative","axis":null}}},
  {"data":{"name":"one"},"mark":{"type":"rule","strokeWidth":1.5,"color":"black"},"encoding":{"x":{"datum":26.2,"axis":null},"x2":{"datum":21.6},"y":{"datum":0.134,"axis":null},"y2":{"datum":-0.32}}},
  {"data":{"name":"one"},"mark":{"type":"rule","strokeWidth":1.5,"color":"#b0b0b0"},"encoding":{"x":{"datum":45.4,"axis":null},"x2":{"datum":21.6},"y":{"datum":-0.986,"axis":null},"y2":{"datum":-0.72}}},
  {"data":{"name":"one"},"mark":{"type":"text","align":"left","baseline":"middle","fontSize":18},"encoding":{"x":{"datum":15.7,"axis":null},"y":{"datum":0.38,"axis":null},"text":{"value":"I"}}},
  {"data":{"name":"one"},"mark":{"type":"text","align":"left","baseline":"middle","fontSize":12,"dx":5,"dy":5},"encoding":{"x":{"datum":15.7,"axis":null},"y":{"datum":0.38,"axis":null},"text":{"value":"GluT"}}},
  {"data":{"name":"one"},"mark":{"type":"text","align":"left","baseline":"middle","fontSize":18,"dx":36},"encoding":{"x":{"datum":15.7,"axis":null},"y":{"datum":0.38,"axis":null},"text":{"value":"(1)"}}},
  {"data":{"name":"one"},"mark":{"type":"text","align":"left","baseline":"middle","fontSize":18,"color":"#a8a8a8"},"encoding":{"x":{"datum":51.7,"axis":null},"y":{"datum":-1.132,"axis":null},"text":{"value":"I"}}},
  {"data":{"name":"one"},"mark":{"type":"text","align":"left","baseline":"middle","fontSize":12,"dx":5,"dy":5,"color":"#a8a8a8"},"encoding":{"x":{"datum":51.7,"axis":null},"y":{"datum":-1.132,"axis":null},"text":{"value":"GluT"}}},
  {"data":{"name":"one"},"mark":{"type":"text","align":"left","baseline":"middle","fontSize":18,"dx":36,"color":"#a8a8a8"},"encoding":{"x":{"datum":51.7,"axis":null},"y":{"datum":-1.132,"axis":null},"text":{"value":"(5)"}}},
  {"data":{"name":"one"},"mark":{"type":"rule","strokeWidth":3,"color":"black"},"encoding":{"x":{"datum":111.9,"axis":null},"x2":{"datum":161.9},"y":{"datum":-0.452,"axis":null}}},
  {"data":{"name":"one"},"mark":{"type":"text","align":"center","baseline":"middle","fontSize":18},"encoding":{"x":{"datum":136.4,"axis":null},"y":{"datum":-0.732,"axis":null},"text":{"value":"50 ms"}}},
  {"data":{"name":"one"},"mark":{"type":"text","angle":270,"align":"center","baseline":"middle","fontSize":19.5},"encoding":{"x":{"datum":-35,"axis":null},"y":{"datum":-0.632,"axis":null},"text":{"value":"adult"}}},
  {"data":{"name":"one"},"mark":{"type":"text","align":"left","baseline":"middle","fontSize":17,"fontWeight":"bold"},"encoding":{"x":{"datum":-43.8,"axis":null},"y":{"datum":0.574,"axis":null},"text":{"value":"(g)"}}}
 ]},
 {"layer":[
  {"data":{"name":"g_o5"},"mark":{"type":"line","color":"#1d8f1d","strokeWidth":3},"encoding":{"x":{"field":"t","type":"quantitative","scale":{"domain":[-62.96,155.3],"nice":false,"zero":false},"axis":null},"y":{"field":"v","type":"quantitative","scale":{"domain":[-1.0,2.12],"nice":false,"zero":false},"axis":null}}},
  {"data":{"name":"g_o1"},"mark":{"type":"line","color":"black","strokeWidth":3},"encoding":{"x":{"field":"t","type":"quantitative","axis":null},"y":{"field":"v","type":"quantitative","axis":null}}},
  {"data":{"name":"one"},"mark":{"type":"rule","strokeWidth":1.5,"color":"black"},"encoding":{"x":{"datum":21,"axis":null},"x2":{"datum":13.3},"y":{"datum":0.02,"axis":null},"y2":{"datum":-0.314}}},
  {"data":{"name":"one"},"mark":{"type":"rule","strokeWidth":1.5,"color":"#1d8f1d"},"encoding":{"x":{"datum":59.5,"axis":null},"x2":{"datum":33.3},"y":{"datum":-0.766,"axis":null},"y2":{"datum":-0.6}}},
  {"data":{"name":"one"},"mark":{"type":"text","align":"left","baseline":"middle","fontSize":18},"encoding":{"x":{"datum":22.8,"axis":null},"y":{"datum":0.254,"axis":null},"text":{"value":"I"}}},
  {"data":{"name":"one"},"mark":{"type":"text","align":"left","baseline":"middle","fontSize":12,"dx":5,"dy":5},"encoding":{"x":{"datum":22.8,"axis":null},"y":{"datum":0.254,"axis":null},"text":{"value":"GluT"}}},
  {"data":{"name":"one"},"mark":{"type":"text","align":"left","baseline":"middle","fontSize":18,"dx":36},"encoding":{"x":{"datum":22.8,"axis":null},"y":{"datum":0.254,"axis":null},"text":{"value":"(1)"}}},
  {"data":{"name":"one"},"mark":{"type":"text","align":"left","baseline":"middle","fontSize":18,"color":"#1f9a1f"},"encoding":{"x":{"datum":62.2,"axis":null},"y":{"datum":-0.78,"axis":null},"text":{"value":"I"}}},
  {"data":{"name":"one"},"mark":{"type":"text","align":"left","baseline":"middle","fontSize":12,"dx":5,"dy":5,"color":"#1f9a1f"},"encoding":{"x":{"datum":62.2,"axis":null},"y":{"datum":-0.78,"axis":null},"text":{"value":"GluT"}}},
  {"data":{"name":"one"},"mark":{"type":"text","align":"left","baseline":"middle","fontSize":18,"dx":36,"color":"#1f9a1f"},"encoding":{"x":{"datum":62.2,"axis":null},"y":{"datum":-0.78,"axis":null},"text":{"value":"(5)"}}},
  {"data":{"name":"one"},"mark":{"type":"text","angle":270,"align":"center","baseline":"middle","fontSize":19.5,"color":"#1a961a"},"encoding":{"x":{"datum":-36.7,"axis":null},"y":{"datum":-0.514,"axis":null},"text":{"value":"old"}}}
 ]}
]},
{"width":148,"height":156,"resolve":{"axis":{"x":"independent","y":"independent"}},
"layer":[
 {"data":{"name":"one"},"mark":{"type":"rule","strokeDash":[15,15],"strokeWidth":3,"color":"black"},"encoding":{"y":{"datum":1,"axis":null}}},
 {"data":{"name":"h_pts"},"mark":{"type":"circle","size":85,"opacity":1,"strokeWidth":1},"encoding":{"x":{"field":"group","type":"nominal","scale":{"type":"point","padding":0.487,"align":0.493,"domain":["adult","old"]},"axis":{"title":null,"labelAngle":0,"labelColor":{"condition":{"test":"datum.value === 'old'","value":"#1a8c1a"},"value":"black"}}},"y":{"field":"value","type":"quantitative","scale":{"domain":[0,2],"nice":false,"zero":false},"axis":{"title":null,"values":[0,0.5,1,1.5,2],"tickCount":20,"labelOverlap":false,"labelExpr":"datum.value === 0 ? '0' : format(datum.value, '.1f')"}},"xOffset":{"field":"jitter","type":"quantitative","scale":{"domain":[-10,10],"range":[-10,10]}},"fill":{"field":"group","type":"nominal","scale":{"domain":["adult","old"],"range":["#c8c8c8","#128a12"]},"legend":null},"stroke":{"field":"group","type":"nominal","scale":{"domain":["adult","old"],"range":["#3c3c3c","#0b3b0b"]},"legend":null}}},
 {"data":{"name":"h_sum"},"mark":{"type":"tick","orient":"horizontal","size":58,"thickness":3,"color":"black","opacity":1},"encoding":{"x":{"field":"group","type":"nominal","axis":null},"y":{"field":"mean","type":"quantitative","axis":null}}},
 {"data":{"name":"h_sum"},"mark":{"type":"rule","strokeWidth":3,"color":"black"},"encoding":{"x":{"field":"group","type":"nominal","axis":null},"y":{"field":"lo","type":"quantitative","axis":null},"y2":{"field":"hi"}}},
 {"data":{"name":"h_sum"},"mark":{"type":"tick","orient":"horizontal","size":22,"thickness":3,"color":"black","opacity":1},"encoding":{"x":{"field":"group","type":"nominal","axis":null},"y":{"field":"lo","type":"quantitative","axis":null}}},
 {"data":{"name":"h_sum"},"mark":{"type":"tick","orient":"horizontal","size":22,"thickness":3,"color":"black","opacity":1},"encoding":{"x":{"field":"group","type":"nominal","axis":null},"y":{"field":"hi","type":"quantitative","axis":null}}},
 {"data":{"name":"one"},"mark":{"type":"rule","strokeWidth":2.5,"color":"black","strokeCap":"square"},"encoding":{"x":{"datum":"adult","axis":null},"x2":{"datum":"old"},"y":{"datum":1.927,"axis":null}}},
 {"data":{"name":"one"},"mark":{"type":"rule","strokeWidth":2.5,"color":"black","strokeCap":"square"},"encoding":{"x":{"datum":"adult","axis":null},"y":{"datum":1.927,"axis":null},"y2":{"datum":1.71}}},
 {"data":{"name":"one"},"mark":{"type":"rule","strokeWidth":2.5,"color":"black","strokeCap":"square"},"encoding":{"x":{"datum":"old","axis":null},"y":{"datum":1.927,"axis":null},"y2":{"datum":1.71}}},
 {"data":{"name":"one"},"mark":{"type":"text","align":"center","baseline":"middle","fontSize":19,"dx":37.5},"encoding":{"x":{"datum":"adult","axis":null},"y":{"datum":2.106,"axis":null},"text":{"value":"N.S."}}},
 {"data":{"name":"one"},"mark":{"type":"text","angle":270,"align":"left","baseline":"alphabetic","fontSize":25,"dx":-75.7,"dy":-79},"encoding":{"x":{"datum":"adult","axis":null},"y":{"datum":0.872,"axis":null},"text":{"value":"I"}}},
 {"data":{"name":"one"},"mark":{"type":"text","angle":270,"align":"left","baseline":"alphabetic","fontSize":16,"dx":-68.75,"dy":-73},"encoding":{"x":{"datum":"adult","axis":null},"y":{"datum":0.872,"axis":null},"text":{"value":"GluT"}}},
 {"data":{"name":"one"},"mark":{"type":"text","angle":270,"align":"left","baseline":"alphabetic","fontSize":25,"dx":-34.07,"dy":-79},"encoding":{"x":{"datum":"adult","axis":null},"y":{"datum":0.872,"axis":null},"text":{"value":"(5)/I"}}},
 {"data":{"name":"one"},"mark":{"type":"text","angle":270,"align":"left","baseline":"alphabetic","fontSize":16,"dx":10.38,"dy":-73},"encoding":{"x":{"datum":"adult","axis":null},"y":{"datum":0.872,"axis":null},"text":{"value":"GluT"}}},
 {"data":{"name":"one"},"mark":{"type":"text","angle":270,"align":"left","baseline":"alphabetic","fontSize":25,"dx":45.06,"dy":-79},"encoding":{"x":{"datum":"adult","axis":null},"y":{"datum":0.872,"axis":null},"text":{"value":"(1)"}}},
 {"data":{"name":"one"},"mark":{"type":"text","align":"left","baseline":"middle","fontSize":17,"fontWeight":"bold","dx":-83},"encoding":{"x":{"datum":"adult","axis":null},"y":{"datum":2.218,"axis":null},"text":{"value":"(h)"}}}
]},
{"width":149,"height":155,"resolve":{"axis":{"x":"independent","y":"independent"}},
"layer":[
 {"data":{"name":"one"},"mark":{"type":"rule","strokeDash":[15,15],"strokeWidth":3,"color":"black"},"encoding":{"y":{"datum":1,"axis":null}}},
 {"data":{"name":"i_pts"},"mark":{"type":"circle","size":85,"opacity":1,"strokeWidth":1},"encoding":{"x":{"field":"group","type":"nominal","scale":{"type":"point","padding":0.507,"align":0.507,"domain":["adult","old"]},"axis":{"title":null,"labelAngle":0,"labelColor":{"condition":{"test":"datum.value === 'old'","value":"#1a8c1a"},"value":"black"}}},"y":{"field":"value","type":"quantitative","scale":{"domain":[0,2],"nice":false,"zero":false},"axis":{"title":null,"values":[0,0.5,1,1.5,2],"tickCount":20,"labelOverlap":false,"labelExpr":"datum.value === 0 ? '0' : format(datum.value, '.1f')"}},"xOffset":{"field":"jitter","type":"quantitative","scale":{"domain":[-10,10],"range":[-10,10]}},"fill":{"field":"group","type":"nominal","scale":{"domain":["adult","old"],"range":["#c8c8c8","#128a12"]},"legend":null},"stroke":{"field":"group","type":"nominal","scale":{"domain":["adult","old"],"range":["#3c3c3c","#0b3b0b"]},"legend":null}}},
 {"data":{"name":"i_sum"},"mark":{"type":"tick","orient":"horizontal","size":58,"thickness":3,"color":"black","opacity":1},"encoding":{"x":{"field":"group","type":"nominal","axis":null},"y":{"field":"mean","type":"quantitative","axis":null}}},
 {"data":{"name":"i_sum"},"mark":{"type":"rule","strokeWidth":3,"color":"black"},"encoding":{"x":{"field":"group","type":"nominal","axis":null},"y":{"field":"lo","type":"quantitative","axis":null},"y2":{"field":"hi"}}},
 {"data":{"name":"i_sum"},"mark":{"type":"tick","orient":"horizontal","size":22,"thickness":3,"color":"black","opacity":1},"encoding":{"x":{"field":"group","type":"nominal","axis":null},"y":{"field":"lo","type":"quantitative","axis":null}}},
 {"data":{"name":"i_sum"},"mark":{"type":"tick","orient":"horizontal","size":22,"thickness":3,"color":"black","opacity":1},"encoding":{"x":{"field":"group","type":"nominal","axis":null},"y":{"field":"hi","type":"quantitative","axis":null}}},
 {"data":{"name":"one"},"mark":{"type":"rule","strokeWidth":2.5,"color":"black","strokeCap":"square"},"encoding":{"x":{"datum":"adult","axis":null},"x2":{"datum":"old"},"y":{"datum":1.932,"axis":null}}},
 {"data":{"name":"one"},"mark":{"type":"rule","strokeWidth":2.5,"color":"black","strokeCap":"square"},"encoding":{"x":{"datum":"adult","axis":null},"y":{"datum":1.932,"axis":null},"y2":{"datum":1.72}}},
 {"data":{"name":"one"},"mark":{"type":"rule","strokeWidth":2.5,"color":"black","strokeCap":"square"},"encoding":{"x":{"datum":"old","axis":null},"y":{"datum":1.932,"axis":null},"y2":{"datum":1.72}}},
 {"data":{"name":"one"},"mark":{"type":"text","align":"center","baseline":"alphabetic","fontSize":24,"dx":37},"encoding":{"x":{"datum":"adult","axis":null},"y":{"datum":1.868,"axis":null},"text":{"value":"*"}}},
 {"data":{"name":"one"},"mark":{"type":"text","angle":270,"align":"left","baseline":"alphabetic","fontSize":17,"dx":-94.05,"dy":-81},"encoding":{"x":{"datum":"adult","axis":null},"y":{"datum":0.91,"axis":null},"text":{"value":"τ"}}},
 {"data":{"name":"one"},"mark":{"type":"text","angle":270,"align":"left","baseline":"alphabetic","fontSize":11,"dx":-85.72,"dy":-77},"encoding":{"x":{"datum":"adult","axis":null},"y":{"datum":0.91,"axis":null},"text":{"value":"decay"}}},
 {"data":{"name":"one"},"mark":{"type":"text","angle":270,"align":"left","baseline":"alphabetic","fontSize":17,"dx":-51.64,"dy":-81},"encoding":{"x":{"datum":"adult","axis":null},"y":{"datum":0.91,"axis":null},"text":{"value":"I"}}},
 {"data":{"name":"one"},"mark":{"type":"text","angle":270,"align":"left","baseline":"alphabetic","fontSize":11,"dx":-46.92,"dy":-77},"encoding":{"x":{"datum":"adult","axis":null},"y":{"datum":0.91,"axis":null},"text":{"value":"GluT"}}},
 {"data":{"name":"one"},"mark":{"type":"text","angle":270,"align":"left","baseline":"alphabetic","fontSize":17,"dx":-23.08,"dy":-81},"encoding":{"x":{"datum":"adult","axis":null},"y":{"datum":0.91,"axis":null},"text":{"value":"(5)/τ"}}},
 {"data":{"name":"one"},"mark":{"type":"text","angle":270,"align":"left","baseline":"alphabetic","fontSize":11,"dx":10.75,"dy":-77},"encoding":{"x":{"datum":"adult","axis":null},"y":{"datum":0.91,"axis":null},"text":{"value":"decay"}}},
 {"data":{"name":"one"},"mark":{"type":"text","angle":270,"align":"left","baseline":"alphabetic","fontSize":17,"dx":44.83,"dy":-81},"encoding":{"x":{"datum":"adult","axis":null},"y":{"datum":0.91,"axis":null},"text":{"value":"I"}}},
 {"data":{"name":"one"},"mark":{"type":"text","angle":270,"align":"left","baseline":"alphabetic","fontSize":11,"dx":49.55,"dy":-77},"encoding":{"x":{"datum":"adult","axis":null},"y":{"datum":0.91,"axis":null},"text":{"value":"GluT"}}},
 {"data":{"name":"one"},"mark":{"type":"text","angle":270,"align":"left","baseline":"alphabetic","fontSize":17,"dx":73.39,"dy":-81},"encoding":{"x":{"datum":"adult","axis":null},"y":{"datum":0.91,"axis":null},"text":{"value":"(1)"}}},
 {"data":{"name":"one"},"mark":{"type":"text","align":"left","baseline":"middle","fontSize":17,"fontWeight":"bold","dx":-92},"encoding":{"x":{"datum":"adult","axis":null},"y":{"datum":2.323,"axis":null},"text":{"value":"(i)"}}}
]}
]
}
